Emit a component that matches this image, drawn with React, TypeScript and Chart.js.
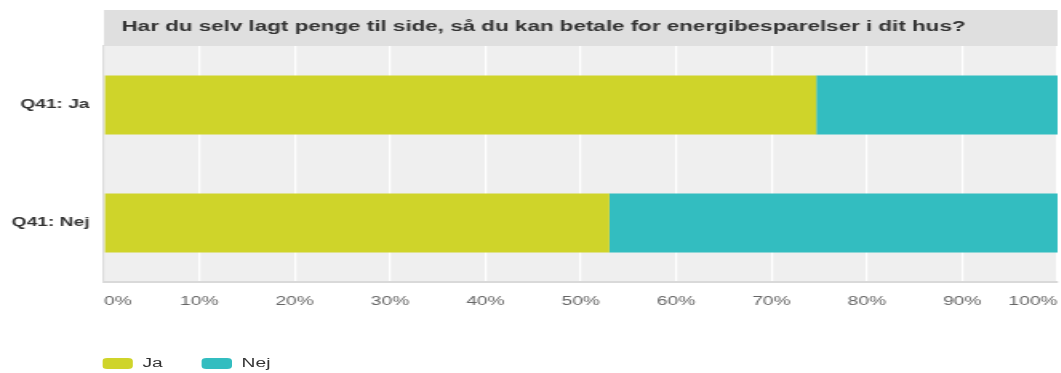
import React, { useEffect, useRef } from 'react';
import { Chart, registerables } from 'chart.js';

Chart.register(...registerables);

const titleText = 'Har du selv lagt penge til side, så du kan betale for energibesparelser i dit hus?';
const categories = ['Q41: Ja', 'Q41: Nej'];
const seriesNames = ['Ja', 'Nej'];
const jaValues = [74.7, 53.0];
const nejValues = [25.3, 47.0];
const tickValues = [0, 10, 20, 30, 40, 50, 60, 70, 80, 90, 100];
const seriesColors = ['#cfd42a', '#33bdc0'];

const FONT = '"Liberation Sans", Arial, Helvetica, sans-serif';
const SX = 1.6;
const W = 663;
const H = 373;

const bgPlugin = {
  id: 'bgTitle',
  beforeDraw(chart: any) {
    const { ctx, chartArea: a } = chart;
    ctx.save();
    ctx.fillStyle = '#efefef';
    ctx.fillRect(a.left, a.top, a.right - a.left, a.bottom - a.top);
    ctx.fillStyle = '#dfdfdf';
    ctx.fillRect(a.left, 10, a.right - a.left, a.top - 10);
    ctx.fillStyle = '#333333';
    ctx.font = `bold 14px ${FONT}`;
    ctx.textBaseline = 'alphabetic';
    ctx.textAlign = 'left';
    ctx.fillText(titleText, a.left + 11, 31);
    ctx.restore();
  },
};

export default function App() {
  const canvasRef = useRef<HTMLCanvasElement | null>(null);

  useEffect(() => {
    document.body.style.margin = '0';
    const canvas = canvasRef.current;
    if (!canvas) return;
    const chart = new Chart(canvas, {
      type: 'bar',
      data: {
        labels: categories,
        datasets: [
          {
            label: seriesNames[0],
            data: jaValues,
            backgroundColor: seriesColors[0],
            borderWidth: 0,
            barPercentage: 1,
            categoryPercentage: 0.5,
          },
          {
            label: seriesNames[1],
            data: nejValues,
            backgroundColor: seriesColors[1],
            borderWidth: 0,
            barPercentage: 1,
            categoryPercentage: 0.5,
          },
        ],
      },
      options: {
        indexAxis: 'y',
        responsive: true,
        maintainAspectRatio: false,
        animation: false,
        layout: { padding: { top: 46, right: 2, left: 0, bottom: 0 } },
        plugins: {
          legend: { display: false },
          title: { display: false },
          tooltip: { enabled: false },
        },
        scales: {
          x: {
            stacked: true,
            min: 0,
            max: 100,
            afterFit: (s: any) => {
              s.height = 91;
            },
            afterBuildTicks: (s: any) => {
              s.ticks = tickValues.map((v) => ({ value: v }));
            },
            ticks: {
              align: 'inner',
              padding: 0,
              color: '#666666',
              font: { family: FONT, size: 12 },
              maxRotation: 0,
              autoSkip: false,
              callback: (v: any) => `${v}%`,
            },
            grid: { color: '#ffffff', lineWidth: 1.25, drawTicks: true, tickLength: 12, tickColor: 'rgba(255,255,255,0)' },
            border: { color: '#d9d9d9', width: 2 },
          },
          y: {
            stacked: true,
            afterFit: (s: any) => {
              s.width = 65;
            },
            ticks: {
              padding: 9,
              color: '#333333',
              font: { family: FONT, size: 12, weight: 'bold' },
            },
            grid: { display: false, drawTicks: false },
            border: { color: '#dcdcdc', width: 1.25 },
          },
        },
      } as any,
      plugins: [bgPlugin],
    });
    return () => chart.destroy();
  }, []);

  const legendItem = (i: number, boxLeft: number, textLeft: number) => (
    <React.Fragment key={seriesNames[i]}>
      <div
        style={{
          position: 'absolute',
          left: boxLeft,
          top: 358,
          width: 18.75,
          height: 11,
          borderRadius: 3,
          background: seriesColors[i],
        }}
      />
      <div
        style={{
          position: 'absolute',
          left: textLeft,
          top: 356,
          height: 15,
          lineHeight: '15px',
          fontFamily: FONT,
          fontSize: 12,
          color: '#333333',
          whiteSpace: 'nowrap',
        }}
      >
        {seriesNames[i]}
      </div>
    </React.Fragment>
  );

  return (
    <div style={{ width: W * SX, height: H, overflow: 'hidden', position: 'relative' }}>
      <div
        style={{
          position: 'absolute',
          left: 0,
          top: 0,
          width: W,
          height: H,
          transform: `scaleX(${SX})`,
          transformOrigin: '0 0',
        }}
      >
        <div style={{ position: 'absolute', left: 0, top: 0, width: W, height: H }}>
          <canvas ref={canvasRef} />
        </div>
        {legendItem(0, 64.4, 89)}
        {legendItem(1, 126.2, 151)}
      </div>
    </div>
  );
}
